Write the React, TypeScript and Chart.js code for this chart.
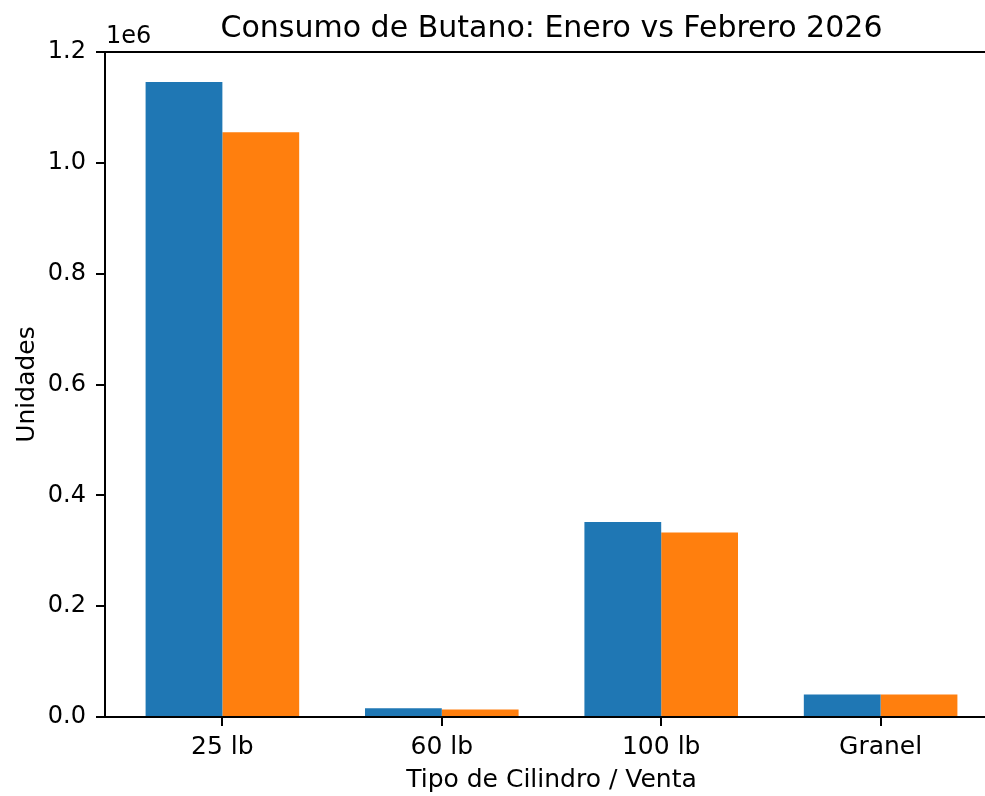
import React, { useEffect, useRef } from "react";
import { Chart, registerables } from "chart.js";

Chart.register(...registerables);

const categories = ["25 lb", "60 lb", "100 lb", "Granel"];
const enero = [1146000, 16000, 352000, 40500];
const febrero = [1055000, 13400, 333000, 40500];
const yTicks = [0, 200000, 400000, 600000, 800000, 1000000, 1200000];
const titleText = "Consumo de Butano: Enero vs Febrero 2026";
const xTitle = "Tipo de Cilindro / Venta";
const yTitle = "Unidades";
const offsetText = "1e6";

const FONT = "'DejaVu Sans', sans-serif";

const overlay = {
  id: "mplOverlay",
  afterDraw(chart: any) {
    const { ctx, chartArea } = chart;
    ctx.save();
    // top spine
    ctx.strokeStyle = "#000";
    ctx.lineWidth = 2;
    ctx.beginPath();
    ctx.moveTo(chartArea.left - 1, chartArea.top);
    ctx.lineTo(chart.width, chartArea.top);
    ctx.stroke();
    // title
    ctx.fillStyle = "#000";
    ctx.font = `30px ${FONT}`;
    ctx.textAlign = "center";
    ctx.textBaseline = "alphabetic";
    ctx.fillText(titleText, (chartArea.left + chartArea.right) / 2, 36.5);
    // offset text
    ctx.font = `24px ${FONT}`;
    ctx.textAlign = "left";
    ctx.fillText(offsetText, chartArea.left + 1, 43);
    ctx.restore();
  },
};

export default function App() {
  const ref = useRef<HTMLCanvasElement | null>(null);
  useEffect(() => {
    if (!ref.current) return;
    const chart = new Chart(ref.current, {
      type: "bar",
      data: {
        datasets: [
          {
            label: "Enero",
            data: enero.map((v, i) => ({ x: i, y: v })),
            backgroundColor: "#1f77b4",
            borderWidth: 0,
            categoryPercentage: 0.7,
            barPercentage: 1,
          },
          {
            label: "Febrero",
            data: febrero.map((v, i) => ({ x: i, y: v })),
            backgroundColor: "#ff7f0e",
            borderWidth: 0,
            categoryPercentage: 0.7,
            barPercentage: 1,
          },
        ],
      },
      options: {
        animation: false,
        responsive: false,
        devicePixelRatio: 1,
        layout: { padding: { top: 52, right: 2, left: 0, bottom: 0 } },
        plugins: {
          legend: { display: false },
          tooltip: { enabled: false },
          title: { display: false },
        },
        scales: {
          x: {
            type: "linear",
            min: -0.535,
            max: 3.535,
            offset: false,
            afterBuildTicks: (scale: any) => {
              scale.ticks = categories.map((_, i) => ({ value: i }));
            },
            afterFit: (scale: any) => {
              scale.height = 79;
            },
            grid: {
              offset: false,
              drawOnChartArea: false,
              drawTicks: true,
              tickLength: 9,
              color: "#000",
              lineWidth: 2,
            },
            border: { display: true, color: "#000", width: 2 },
            ticks: {
              autoSkip: false,
              maxRotation: 0,
              padding: 6,
              color: "#000",
              font: { family: FONT, size: 25 },
              callback: (v: any) => categories[Math.round(Number(v))] ?? "",
            },
            title: {
              display: true,
              text: xTitle,
              color: "#000",
              font: { family: FONT, size: 25 },
              padding: { top: 0, bottom: 1 },
            },
          },
          y: {
            type: "linear",
            min: 0,
            max: 1200000,
            afterBuildTicks: (scale: any) => {
              scale.ticks = yTicks.map((v) => ({ value: v }));
            },
            afterFit: (scale: any) => {
              scale.width = 105;
            },
            grid: {
              drawOnChartArea: false,
              drawTicks: true,
              tickLength: 9,
              color: "#000",
              lineWidth: 2,
            },
            border: { display: true, color: "#000", width: 2 },
            ticks: {
              padding: 10,
              color: "#000",
              font: { family: FONT, size: 24 },
              callback: (v: any) => (Number(v) / 1e6).toFixed(1),
            },
            title: {
              display: true,
              text: yTitle,
              color: "#000",
              font: { family: FONT, size: 25 },
              padding: { top: 12, bottom: 0 },
            },
          },
        },
      },
      plugins: [overlay],
    } as any);
    return () => chart.destroy();
  }, []);

  return (
    <div
      style={{
        position: "fixed",
        left: 0,
        top: 0,
        width: 985,
        height: 796,
        overflow: "hidden",
        background: "#fff",
      }}
    >
      <canvas
        ref={ref}
        width={1000}
        height={796}
        style={{ display: "block", width: 1000, height: 796 }}
      />
    </div>
  );
}
